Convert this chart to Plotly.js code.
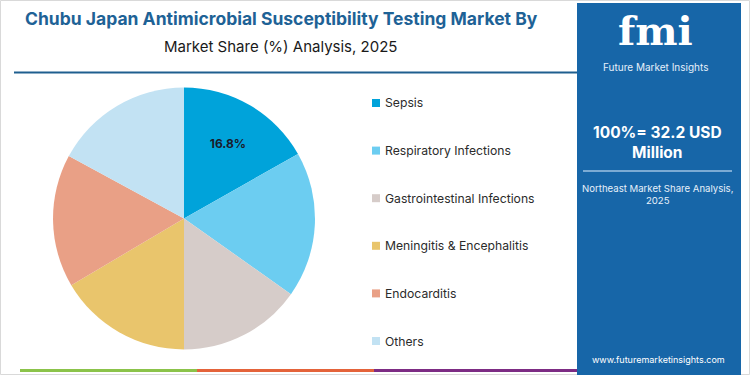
<!DOCTYPE html>
<html>
<head>
<meta charset="utf-8">
<script src="https://cdn.plot.ly/plotly-3.0.1.min.js"></script>
<style>html,body{margin:0;padding:0;background:#fff;}#chart{width:750px;height:375px;}</style>
</head>
<body>
<div id="chart"></div>
<script>
// ---- data ----
const categories = ["Sepsis", "Respiratory Infections", "Gastrointestinal Infections", "Meningitis & Encephalitis", "Endocarditis", "Others"];
const shares = [16.8, 18.0, 15.2, 16.5, 16.4, 17.1];
const colors = ["#00A3DA", "#6CCDF1", "#D6CCC9", "#E9C56C", "#E9A086", "#C2E2F3"];
const shownLabels = [true, false, false, false, false, false];
const titleLine1 = "Chubu Japan Antimicrobial Susceptibility Testing Market By";
const titleLine2 = "Market Share (%) Analysis, 2025";
const totalText = "100%= 32.2 USD<br>Million";
const subText = "Northeast Market Share Analysis,<br>2025";

const FONT = "Inter, 'Noto Sans', sans-serif";

const pie = {
  type: "pie",
  labels: categories,
  values: shares,
  sort: false,
  direction: "clockwise",
  rotation: 0,
  marker: {colors: colors, line: {width: 0}},
  texttemplate: shownLabels.map(s => s ? "%{value:.1f}%" : ""),
  textposition: "inside",
  insidetextorientation: "horizontal",
  textfont: {family: FONT, size: 12, color: "#1b1b2b", weight: 700},
  domain: {x: [0.0707, 0.42], y: [0.068, 0.7667]},
  showlegend: false,
  hoverinfo: "label+percent"
};

// legend built from the category arrays
const legTop = 103, legStep = 47.6;
const shapes = [];
const annotations = [];
categories.forEach((c, i) => {
  const yc = legTop + i * legStep;
  shapes.push({type: "rect", xref: "paper", yref: "paper",
    x0: 372/750, x1: 380/750, y0: 1 - (yc + 4)/375, y1: 1 - (yc - 4)/375,
    fillcolor: colors[i], line: {width: 0}});
  annotations.push({xref: "paper", yref: "paper", x: 383/750, y: 1 - yc/375,
    xanchor: "left", yanchor: "middle", showarrow: false, text: c,
    font: {family: FONT, size: 12.2, color: "#2b2b2b"}});
});

// frame, title rule, right panel, bottom stripe
shapes.push(
  {type: "rect", xref: "paper", yref: "paper", x0: 0.5/750, x1: 749.5/750, y0: 0.5/375, y1: 374.5/375, line: {color: "#d9d9d9", width: 1}, fillcolor: "rgba(0,0,0,0)"},
  {type: "line", xref: "paper", yref: "paper", x0: 14/750, x1: 577/750, y0: 1 - 72.5/375, y1: 1 - 72.5/375, line: {color: "#1f5f8f", width: 2}},
  {type: "rect", xref: "paper", yref: "paper", x0: 577/750, x1: 741/750, y0: 0, y1: 1 - 3/375, fillcolor: "#1766A8", line: {width: 0}},
  {type: "line", xref: "paper", yref: "paper", x0: 583/750, x1: 732/750, y0: 1 - 171/375, y1: 1 - 171/375, line: {color: "#9fc3e3", width: 1.5}},
  {type: "rect", xref: "paper", yref: "paper", x0: 20/750, x1: 197/750, y0: 1 - 372/375, y1: 1 - 369/375, fillcolor: "#8BC34A", line: {width: 0}},
  {type: "rect", xref: "paper", yref: "paper", x0: 197/750, x1: 374/750, y0: 1 - 372/375, y1: 1 - 369/375, fillcolor: "#E4633A", line: {width: 0}},
  {type: "rect", xref: "paper", yref: "paper", x0: 374/750, x1: 577/750, y0: 1 - 372/375, y1: 1 - 369/375, fillcolor: "#7D2C84", line: {width: 0}}
);

annotations.push(
  {xref: "paper", yref: "paper", x: 281/750, y: 1 - 18/375, xanchor: "center", yanchor: "middle", showarrow: false,
   text: "<b>" + titleLine1 + "</b>", font: {family: FONT, size: 17.5, color: "#1E6296"}},
  {xref: "paper", yref: "paper", x: 280/750, y: 1 - 46/375, xanchor: "center", yanchor: "middle", showarrow: false,
   text: titleLine2, font: {family: FONT, size: 15, color: "#1a1a1a"}},
  {xref: "paper", yref: "paper", x: 655/750, y: 1 - 5/375, xanchor: "center", yanchor: "top", showarrow: false,
   text: "<b>fmi</b>", font: {family: "'DejaVu Serif', serif", size: 40, color: "#ffffff"}},
  {xref: "paper", yref: "paper", x: 655/750, y: 1 - 67/375, xanchor: "center", yanchor: "middle", showarrow: false,
   text: "Future Market Insights", font: {family: FONT, size: 10, color: "#e6f0fa"}},
  {xref: "paper", yref: "paper", x: 657/750, y: 1 - 142/375, xanchor: "center", yanchor: "middle", showarrow: false,
   text: "<b>" + totalText + "</b>", font: {family: FONT, size: 15.5, color: "#ffffff"}},
  {xref: "paper", yref: "paper", x: 657/750, y: 1 - 194/375, xanchor: "center", yanchor: "middle", showarrow: false,
   text: subText, font: {family: FONT, size: 9.6, color: "#e6f0fa"}},
  {xref: "paper", yref: "paper", x: 658/750, y: 1 - 359/375, xanchor: "center", yanchor: "middle", showarrow: false,
   text: "www.futuremarketinsights.com", font: {family: FONT, size: 9, color: "#ffffff"}}
);

const layout = {
  width: 750, height: 375,
  margin: {l: 0, r: 0, t: 0, b: 0},
  paper_bgcolor: "#ffffff",
  plot_bgcolor: "#ffffff",
  showlegend: false,
  shapes: shapes,
  annotations: annotations,
  font: {family: FONT}
};

Plotly.newPlot("chart", [pie], layout, {displayModeBar: false, staticPlot: true});
</script>
</body>
</html>
